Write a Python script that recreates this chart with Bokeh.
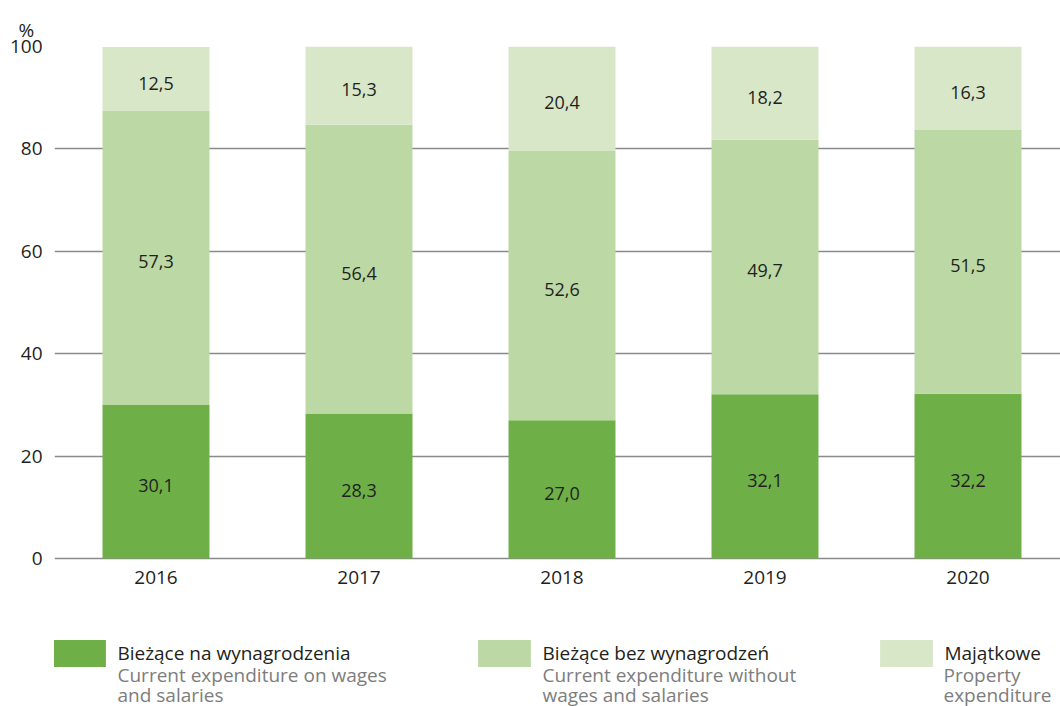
from bokeh.plotting import figure
from bokeh.models import Range1d, FixedTicker, ColumnDataSource, Label, Legend, LegendItem, Title
from bokeh.core.properties import value
from bokeh.embed import file_html
from bokeh.resources import INLINE

years = ["2016", "2017", "2018", "2019", "2020"]
wages = [30.1, 28.3, 27.0, 32.1, 32.2]
non_wages = [57.3, 56.4, 52.6, 49.7, 51.5]
property_exp = [12.5, 15.3, 20.4, 18.2, 16.3]
y_ticks = [0, 20, 40, 60, 80, 100]

legend_pl = ["Bieżące na wynagrodzenia", "Bieżące bez wynagrodzeń", "Majątkowe"]
legend_en = [["Current expenditure on wages", "and salaries"],
             ["Current expenditure without", "wages and salaries"],
             ["Property", "expenditure"]]

colors = ["#6eaf48", "#bcd8a4", "#d9e7c9"]
FONT = "Open Sans"
DARK = "#231f20"
GREY = "#7d7d7d"

# layout (pixels)
W, H = 1060, 706
LEFT, TOP = 54, 46
PLOT_H = 512            # height of 0..100
SLOT = 203              # pixels per category
px_y = PLOT_H / 100.0

xs = list(range(len(years)))
src = ColumnDataSource(dict(x=xs, wages=wages, non_wages=non_wages, prop=property_exp))

frame_h = H - TOP
y_bottom = -(frame_h - PLOT_H) / px_y
x_start = -0.5
x_end = x_start + (W - LEFT) / SLOT

p = figure(width=W, height=H, x_range=Range1d(x_start, x_end), y_range=Range1d(y_bottom, 100),
           output_backend="svg", toolbar_location=None,
           min_border_left=LEFT, min_border_right=0, min_border_top=TOP, min_border_bottom=0)
p.outline_line_color = None
bars = p.vbar_stack(["wages", "non_wages", "prop"], x="x", width=0.527, color=colors,
                    line_color=None, source=src)

# segment labels
lx, ly, lt = [], [], []
for i in xs:
    base = 0.0
    for v in (wages[i], non_wages[i], property_exp[i]):
        lx.append(i)
        ly.append(base + v / 2)
        lt.append(f"{v:.1f}".replace(".", ","))
        base += v
p.text(x="x", y="y", text="t", source=ColumnDataSource(dict(x=lx, y=ly, t=lt)),
       text_align="center", text_baseline="middle", y_offset=4,
       text_font=value(FONT), text_font_size="18px", text_color=DARK)

p.xaxis.ticker = FixedTicker(ticks=xs)
p.xaxis.major_label_overrides = {i: y for i, y in zip(xs, years)}
p.xaxis.fixed_location = 0
p.yaxis.ticker = FixedTicker(ticks=y_ticks)
for ax in (p.xaxis[0], p.yaxis[0]):
    ax.axis_line_color = None
    ax.major_tick_line_color = None
    ax.minor_tick_line_color = None
    ax.major_tick_out = 0
    ax.major_tick_in = 0
    ax.major_label_standoff = 12
    ax.major_label_text_font = FONT
    ax.major_label_text_font_size = "19px"
    ax.major_label_text_color = DARK
p.xgrid.grid_line_color = None
p.ygrid.ticker = FixedTicker(ticks=y_ticks)
p.ygrid.grid_line_color = "#8a8a8a"
p.ygrid.grid_line_width = 1.3

# "%" unit label above the value axis
p.add_layout(Title(text="%", align="left", offset=-36, standoff=3, vertical_align="top",
                   text_font=FONT, text_font_size="19px", text_font_style="normal",
                   text_color=DARK), "above")

# legend (inside the frame, below the x axis)
GW, GH = 66, 34                  # area legend glyphs are inset by 10% per side -> ~53x27 swatch
inset_x = GW * 0.1
line_page_y = [653, 674, 694]    # baselines of the three legend text lines
sw_page_x = [53, 478, 880]
for k in range(3):
    lg = Legend(items=[LegendItem(label=legend_pl[k], renderers=[bars[k]])],
                location=(float(sw_page_x[k] - LEFT - inset_x), float(H - (line_page_y[0] + GH / 2))),
                glyph_width=GW, glyph_height=GH, label_height=GH, label_width=10,
                label_standoff=5, padding=0, margin=0, spacing=0,
                border_line_color=None, background_fill_alpha=0,
                label_text_font=FONT, label_text_font_size="19px",
                label_text_color=DARK, label_text_baseline="alphabetic")
    p.add_layout(lg)

txt_page_x = [117, 542, 943]
for k in range(3):
    for j, py in enumerate(line_page_y[1:]):
        p.add_layout(Label(x=x_start + (txt_page_x[k] - LEFT) / SLOT,
                           y=-(py - TOP - PLOT_H) / px_y,
                           text=legend_en[k][j], text_baseline="alphabetic",
                           text_font=FONT, text_font_size="19px", text_color=GREY))

open("out.html", "w").write(file_html(p, INLINE))
